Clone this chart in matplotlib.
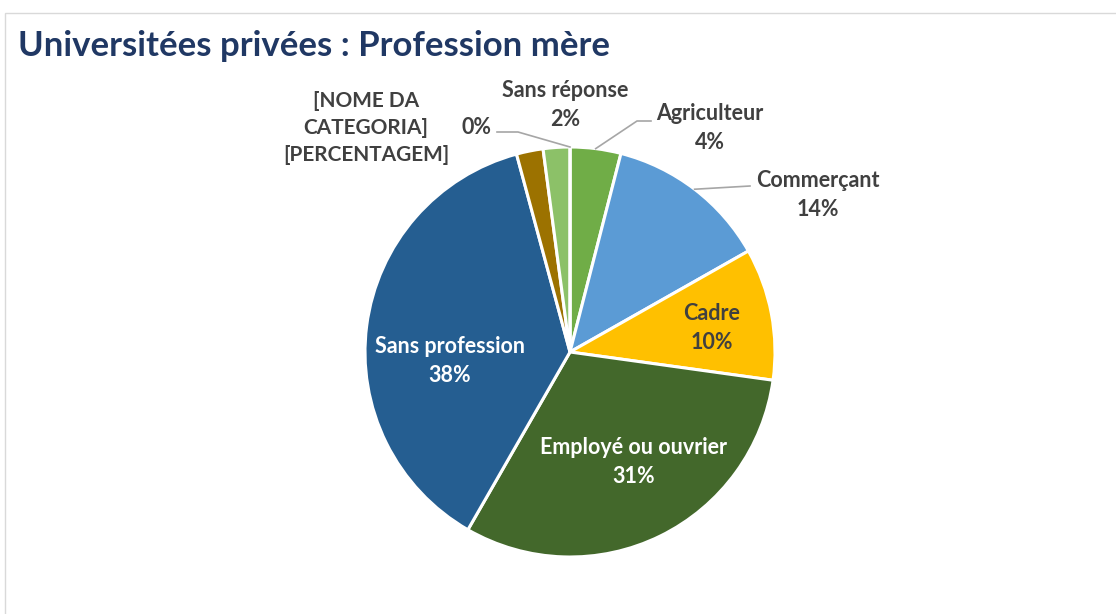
import numpy as np
import matplotlib.pyplot as plt
from matplotlib.patches import Rectangle

# slices clockwise from 12 o'clock (shares)
categories = ["Agriculteur", "Commerçant", "Cadre", "Employé ou ouvrier",
              "Sans profession", "[NOME DA\nCATEGORIA]\n[PERCENTAGEM]", "Sans réponse", ""]
values = [4.0, 12.8, 10.4, 31.1, 37.5, 2.1, 2.1, 0.0]
pct_labels = ["4%", "14%", "10%", "31%", "38%", "", "2%", "0%"]
colors = ["#70AD47", "#5B9BD5", "#FFC000", "#43682B",
          "#255E91", "#9C7200", "#8CC168", "#A5A5A5"]

W, H = 1116, 614
fig = plt.figure(figsize=(W / 100, H / 100), dpi=100)
ax = fig.add_axes([0, 0, 1, 1])

# chart frame
fig.patches.append(Rectangle((5 / W, 0 - 0.02), 1.1, (H - 13) / H + 0.02,
                             transform=fig.transFigure, fill=False,
                             edgecolor="#D9D9D9", lw=1))

fig.text(18 / W, 1 - 46 / H, "Universitées privées : Profession mère",
         fontsize=25, fontweight="bold", color="#203864", family="Lato",
         va="center", ha="left")

cx, cy, r = 570, H - 352, 205
wedges, _ = ax.pie(values, colors=colors, startangle=90, counterclock=False,
                   center=(cx, cy), radius=r, frame=True,
                   wedgeprops=dict(edgecolor="white", linewidth=2.2))
ax.set_xlim(0, W)
ax.set_ylim(0, H)
ax.set_aspect("equal")
ax.axis("off")

dark = "#404040"
txt = dict(fontsize=15.5, fontweight="bold", family="Lato",
           ha="center", va="center", linespacing=1.45)

# label centres (pixels from top-left) and colour
label_pos = {0: (710, 128, dark), 1: (818, 195, dark), 2: (712, 328, dark),
             3: (634, 462, "white"), 4: (450, 361, "white"),
             5: (366, 128, dark), 6: (565, 105, dark), 7: (477, 128, dark)}

for i, (x, y, c) in label_pos.items():
    s = "\n".join(t for t in (categories[i], pct_labels[i]) if t)
    size = 15 if i == 5 else 15.5
    ax.text(x, H - y, s, color=c, **{**txt, "fontsize": size})


def edge_point(i):
    w = wedges[i]
    a = np.deg2rad((w.theta1 + w.theta2) / 2)
    return cx + r * np.cos(a), cy + r * np.sin(a)


line = dict(color="#A6A6A6", lw=1.2)
# Agriculteur
px, py = edge_point(0)
ax.plot([px, 637, 651], [py, H - 121, H - 121], **line)
# Commerçant
px, py = edge_point(1)
ax.plot([px, 750], [py, H - 186], **line)
# zero slice
px, py = edge_point(7)
ax.plot([497, 518, px], [H - 132, H - 132, py], **line)

fig.savefig("out.png", dpi=100)
